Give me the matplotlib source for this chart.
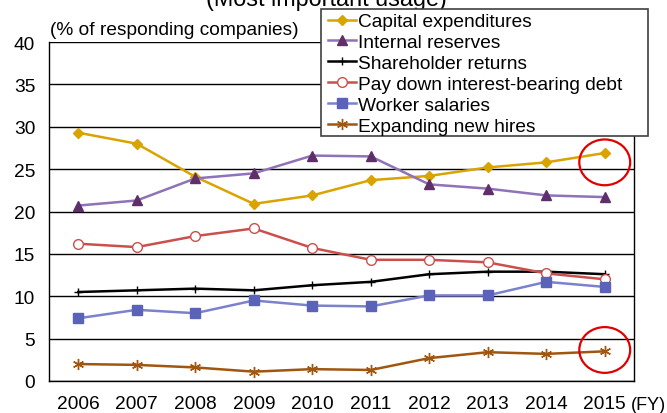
import matplotlib.pyplot as plt
from matplotlib.patches import Ellipse, Rectangle

plt.rcParams['font.family'] = ['Liberation Sans', 'DejaVu Sans']

years = ['2006', '2007', '2008', '2009', '2010', '2011', '2012', '2013', '2014', '2015']
capital = [29.3, 28.0, 24.1, 20.9, 21.9, 23.7, 24.2, 25.2, 25.8, 26.9]
reserves = [20.7, 21.3, 23.9, 24.5, 26.6, 26.5, 23.2, 22.7, 21.9, 21.7]
shareholder = [10.5, 10.7, 10.9, 10.7, 11.3, 11.7, 12.6, 12.9, 12.9, 12.6]
paydown = [16.2, 15.8, 17.1, 18.0, 15.7, 14.3, 14.3, 14.0, 12.7, 12.0]
salaries = [7.4, 8.4, 8.0, 9.5, 8.9, 8.8, 10.1, 10.1, 11.7, 11.1]
hires = [2.0, 1.9, 1.6, 1.1, 1.4, 1.3, 2.7, 3.4, 3.2, 3.5]

fs = 13.8

fig = plt.figure(figsize=(6.67, 4.14), dpi=100)
ax = fig.add_axes([0.0735, 0.0773, 0.877, 0.8188])
x = range(len(years))

ax.plot(x, capital, color='#D9A300', lw=1.8, marker='D', ms=5.5,
        label='Capital expenditures', zorder=5)
ax.plot(x, reserves, color='#8F72B8', lw=1.8, marker='^', ms=7,
        mfc='#5E2F6A', mec='#5E2F6A', label='Internal reserves', zorder=5)
ax.plot(x, shareholder, color='black', lw=1.8, marker='+', ms=6,
        mew=1, label='Shareholder returns', zorder=5)
ax.plot(x, paydown, color='#C9504D', lw=1.8, marker='o', ms=7,
        mfc='white', mec='#C9504D', label='Pay down interest-bearing debt', zorder=5)
ax.plot(x, salaries, color='#7B82CC', lw=1.8, marker='s', ms=7,
        mfc='#5A63B8', mec='#5A63B8', label='Worker salaries', zorder=5)
ax.plot(x, hires, color='#A0560F', lw=1.8, marker=(6, 2, 0), ms=8,
        mew=1, label='Expanding new hires', zorder=5)

# red circles highlighting 2015
ax.add_patch(Ellipse((9, 25.8), 0.87, 5.4, fill=False, ec='#E00000', lw=1.6, zorder=6))
ax.add_patch(Ellipse((9, 3.66), 0.87, 5.4, fill=False, ec='#E00000', lw=1.6, zorder=6))

ax.set_xlim(-0.5, 9.5)
ax.set_ylim(0, 40)
ax.set_yticks(range(0, 41, 5))
ax.set_xticks(list(x))
ax.set_xticklabels(years)
ax.tick_params(axis='both', length=0, labelsize=fs)
ax.tick_params(axis='y', pad=10)
ax.tick_params(axis='x', pad=10)
ax.yaxis.grid(True, color='black', lw=1)
ax.set_axisbelow(True)
for s in ['left', 'right', 'bottom']:
    ax.spines[s].set_color('black')
    ax.spines[s].set_linewidth(1)
ax.spines['top'].set_visible(False)

fig.text(0.075, 0.927, '(% of responding companies)', fontsize=fs, va='center')
fig.text(0.946, 0.02, '(FY)', fontsize=13, va='center')
fig.text(0.49, 0.985, '(Most important usage)', fontsize=16.8, ha='center', va='baseline')

# legend box (wider than matplotlib's own frame, like the original)
fig.patches.append(Rectangle((321 / 667, 1 - 137 / 414), 327 / 667, 127 / 414,
                             transform=fig.transFigure, fc='white', ec='#404040',
                             lw=1.2, zorder=8))
leg = fig.legend(loc='upper left', bbox_to_anchor=(325 / 667, 1 - 11 / 414), fontsize=fs,
                 frameon=False, handlelength=1.45, handletextpad=0.1,
                 labelspacing=0.18, borderpad=0.15, borderaxespad=0)
leg.set_zorder(9)

fig.savefig('out.png', dpi=100)
